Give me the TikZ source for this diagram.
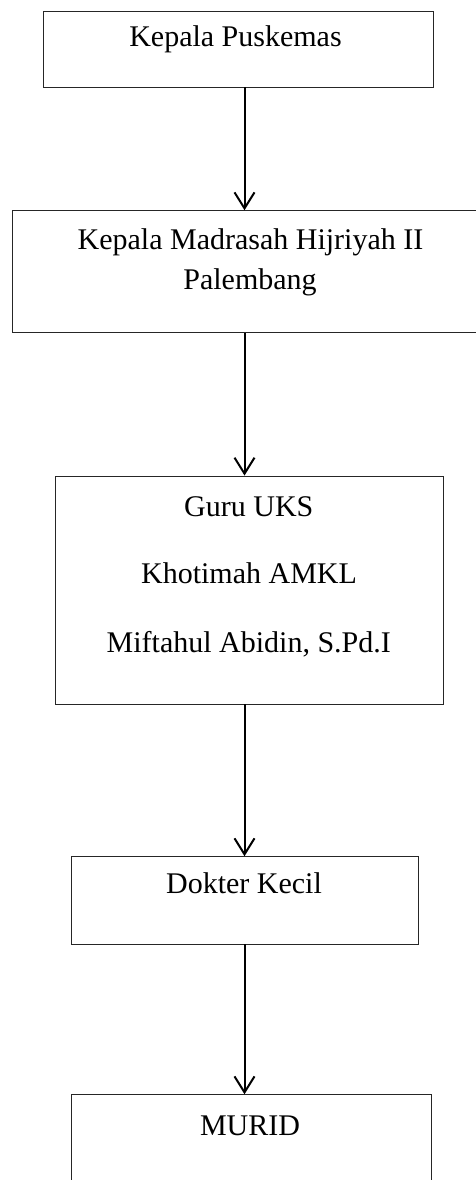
\documentclass[tikz,border=0pt]{standalone}
\usepackage{fontspec}
\setmainfont{Liberation Serif}
\usetikzlibrary{arrows.meta}
\begin{document}
\begin{tikzpicture}[x=1pt,y=1pt,
  box/.style={draw=black!85,line width=0.9pt,rectangle,inner sep=0pt},
  lbl/.style={anchor=base,inner sep=0pt,font=\fontsize{30}{36}\selectfont},
  arr/.style={draw=black,line width=2pt,-{Straight Barb[length=16pt,width=20pt,line width=2pt]}}]
\useasboundingbox (0,0) rectangle (476,-1180);
\fill[white] (0,0) rectangle (476,-1180);
\coordinate (ax) at (244.5,0);
% boxes
\node[box,minimum width=390pt,minimum height=76pt] (b1) at (238,-49) {};
\node[box,minimum width=476pt,minimum height=122pt] (b2) at (250,-271.7) {};
\node[box,minimum width=388pt,minimum height=228pt] (b3) at (249.3,-590) {};
\node[box,minimum width=347.3pt,minimum height=87.3pt] (b4) at (244.7,-900.3) {};
\node[box,minimum width=360.7pt,minimum height=140pt] (b5) at (251.3,-1164.7) {};
% labels
\node[lbl] (t1) at (235.5,-46.7) {Kepala Puskemas};
\node[lbl] (t2a) at (250.5,-249.3) {Kepala Madrasah Hijriyah II};
\node[lbl] (t2b) at (250,-289.3) {Palembang};
\node[lbl] (t3a) at (248.8,-516) {Guru UKS};
\node[lbl] (t3b) at (249,-583.3) {Khotimah AMKL};
\node[lbl] (t3c) at (248.8,-652.3) {Miftahul Abidin, S.Pd.I};
\node[lbl] (t4) at (244,-893.3) {Dokter Kecil};
\node[lbl] (t5) at (250,-1135.7) {MURID};
% arrows
\draw[arr] (b1.south -| ax) -- (b2.north -| ax);
\draw[arr] (b2.south -| ax) -- (b3.north -| ax);
\draw[arr] (b3.south -| ax) -- (b4.north -| ax);
\draw[arr] (b4.south -| ax) -- (b5.north -| ax);
\end{tikzpicture}
\end{document}
